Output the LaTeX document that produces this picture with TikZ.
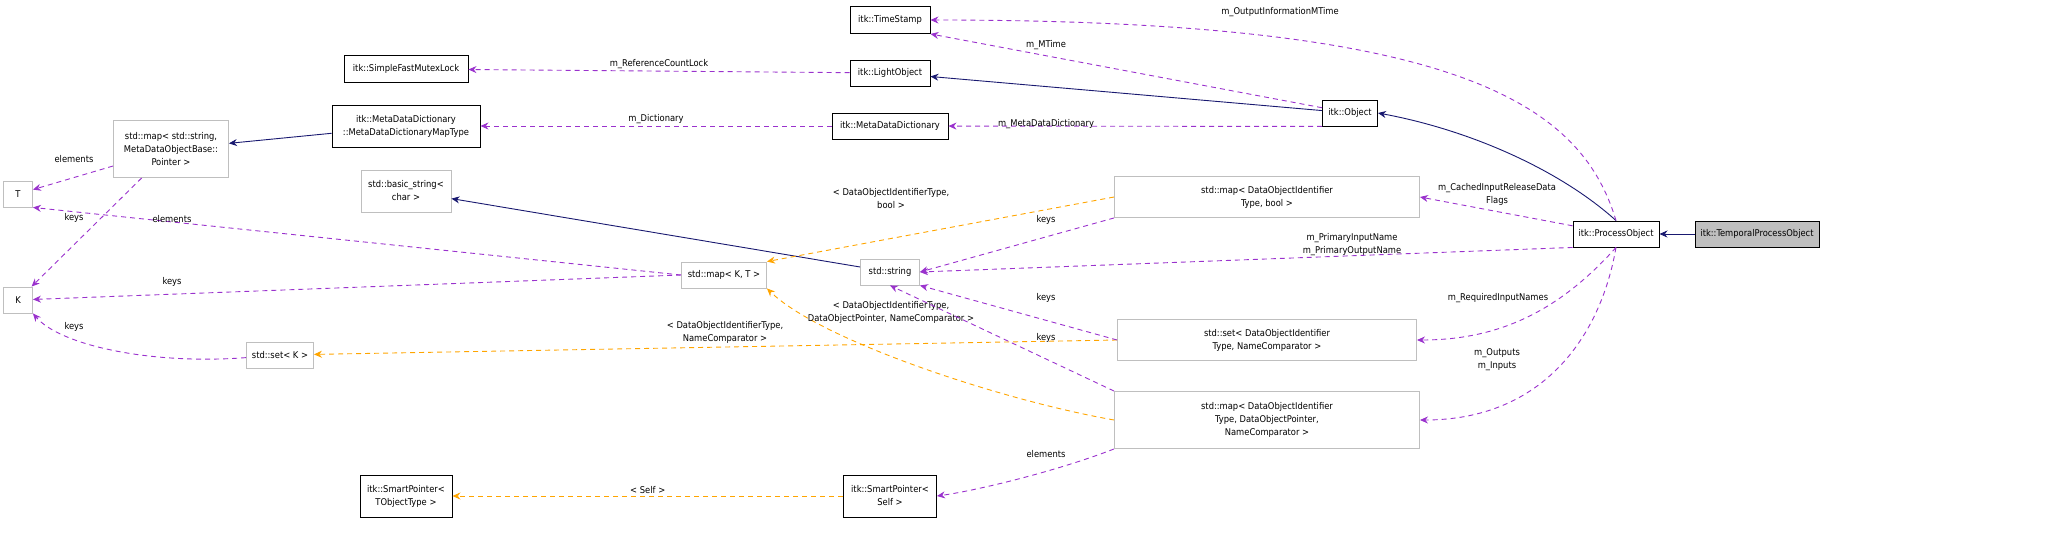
\documentclass[tikz,border=0pt]{standalone}
\usepackage{fontspec}
\setmainfont{DejaVu Sans Condensed}
\usetikzlibrary{arrows.meta}
\definecolor{navy}{HTML}{191970}
\definecolor{purp}{HTML}{9A32CD}
\definecolor{orng}{HTML}{FFA500}
\definecolor{gbor}{HTML}{BFBFBF}
\tikzset{
  cls/.style={draw=black,line width=0.9pt,fill=white,inner sep=1pt,align=center,font=\fontsize{9.3}{13}\selectfont},
  tpl/.style={draw=gbor,line width=0.9pt,fill=white,inner sep=1pt,align=center,font=\fontsize{9.3}{13}\selectfont},
  inh/.style={draw=navy,line width=0.9pt,-{Stealth[length=8pt,width=7pt]}},
  use/.style={draw=purp,dashed,dash pattern=on 5pt off 4pt,line width=0.9pt,-{Stealth[length=8pt,width=7pt]}},
  tmp/.style={draw=orng,dashed,dash pattern=on 5pt off 4pt,line width=0.9pt,-{Stealth[length=8pt,width=7pt]}},
  lab/.style={font=\fontsize{9.3}{13}\selectfont,align=center,inner sep=0pt}
}
\begin{document}
\begin{tikzpicture}[x=1pt,y=-1pt]
\useasboundingbox (0,0) rectangle (2053,535);
\node[cls,minimum width=80,minimum height=27] (ts) at (890,20) {itk::TimeStamp};
\node[cls,minimum width=124,minimum height=27] (sfm) at (406,69) {itk::SimpleFastMutexLock};
\node[cls,minimum width=80,minimum height=26] (lo) at (890,73) {itk::LightObject};
\node[cls,minimum width=148,minimum height=42] (mt) at (406,126) {itk::MetaDataDictionary\\::MetaDataDictionaryMapType};
\node[cls,minimum width=116,minimum height=26] (mdd) at (890,126) {itk::MetaDataDictionary};
\node[cls,minimum width=55,minimum height=26] (obj) at (1350,113) {itk::Object};
\node[tpl,minimum width=115,minimum height=57] (ms) at (171,149) {std::map\textless{} std::string,\\MetaDataObjectBase::\\Pointer \textgreater{}};
\node[tpl,minimum width=29,minimum height=26] (T) at (18,194) {T};
\node[tpl,minimum width=29,minimum height=26] (K) at (18,300) {K};
\node[tpl,minimum width=90,minimum height=42] (bs) at (406,191) {std::basic\_string\textless{}\\char \textgreater{}};
\node[tpl,minimum width=305,minimum height=41] (mb) at (1267,197) {std::map\textless{} DataObjectIdentifier\\Type, bool \textgreater{}};
\node[tpl,minimum width=85,minimum height=26] (mkt) at (724,275) {std::map\textless{} K, T \textgreater{}};
\node[tpl,minimum width=59,minimum height=26] (str) at (890,272) {std::string};
\node[cls,minimum width=86,minimum height=26] (po) at (1616,234) {itk::ProcessObject};
\node[cls,fill=gbor,minimum width=124,minimum height=26] (tpo) at (1757,234) {itk::TemporalProcessObject};
\node[tpl,minimum width=67,minimum height=26] (sk) at (280,355) {std::set\textless{} K \textgreater{}};
\node[tpl,minimum width=299,minimum height=41] (sn) at (1267,340) {std::set\textless{} DataObjectIdentifier\\Type, NameComparator \textgreater{}};
\node[tpl,minimum width=305,minimum height=57] (mp) at (1267,420) {std::map\textless{} DataObjectIdentifier\\Type, DataObjectPointer,\\NameComparator \textgreater{}};
\node[cls,minimum width=92,minimum height=42] (spt) at (406,496) {itk::SmartPointer\textless{}\\TObjectType \textgreater{}};
\node[cls,minimum width=93,minimum height=42] (sps) at (890,496) {itk::SmartPointer\textless{}\\Self \textgreater{}};
% inheritance
\draw[inh] (tpo) -- (po);
\draw[inh] (po.north) .. controls (1560,170) and (1470,130) .. (obj.east);
\draw[inh] (obj) -- (lo);
\draw[inh] (str) -- (bs);
\draw[inh] (mt) -- (ms);
% usage
\draw[use] (obj) -- (ts.south east);
\node[lab] (l0) at (1046,45) {m\_MTime};
\draw[use] (po.north) .. controls (1580,100) and (1450,20) .. (ts.east);
\node[lab] (l1) at (1280,12) {m\_OutputInformationMTime};
\draw[use] (lo) -- node[lab,above=2pt] {m\_ReferenceCountLock} (sfm);
\draw[use] (obj.south west) -- (mdd);
\node[lab] (l1b) at (1046,124) {m\_MetaDataDictionary};
\draw[use] (mdd) -- node[lab,above=2pt] {m\_Dictionary} (mt);
\draw[use] (ms) -- (T);
\node[lab] (l2) at (74,159) {elements};
\draw[use] (ms) -- (K);
\node[lab] (l3) at (74,218) {keys};
\draw[use] (mkt.west) -- (T.south east);
\node[lab] (l4) at (172,219) {elements};
\draw[use] (mkt.west) -- (K);
\node[lab] (l5) at (172,282) {keys};
\draw[use] (sk) .. controls (150,365) and (60,345) .. (K.south east);
\node[lab] (l6) at (74,327) {keys};
\draw[tmp] (sn.west) -- (sk);
\node[lab] (l6b) at (725,332) {< DataObjectIdentifierType,\\NameComparator >};
\draw[tmp] (mb.west) -- (mkt.north east);
\node[lab] (l7) at (891,199) {< DataObjectIdentifierType,\\bool >};
\draw[tmp] (mp.west) .. controls (1000,400) and (820,340) .. (mkt.south east);
\node[lab] (l8) at (891,312) {< DataObjectIdentifierType,\\DataObjectPointer, NameComparator >};
\draw[use] (mb.south west) -- (str.east);
\node[lab] (l8b) at (1046,220) {keys};
\draw[use] (po.south west) -- (str.east);
\node[lab] (l9) at (1352,245) {m\_PrimaryInputName\\m\_PrimaryOutputName};
\draw[use] (sn.west) -- (str.south east);
\node[lab] (l9b) at (1046,298) {keys};
\draw[use] (mp.north west) -- (str.south);
\node[lab] (l10) at (1046,338) {keys};
\draw[use] (po) -- (mb.east);
\node[lab] (l11) at (1497,194) {m\_CachedInputReleaseData\\Flags};
\draw[use] (po.south) .. controls (1560,310) and (1500,340) .. (sn.east);
\node[lab] (l12) at (1498,298) {m\_RequiredInputNames};
\draw[use] (po.south) .. controls (1600,340) and (1540,420) .. (mp.east);
\node[lab] (l13) at (1497,360) {m\_Outputs\\m\_Inputs};
\draw[use] (mp.south west) .. controls (1060,470) and (980,490) .. (sps.east);
\node[lab] (l14) at (1046,454) {elements};
\draw[tmp] (sps) -- node[lab,above=2pt] {< Self >} (spt);
\end{tikzpicture}
\end{document}
